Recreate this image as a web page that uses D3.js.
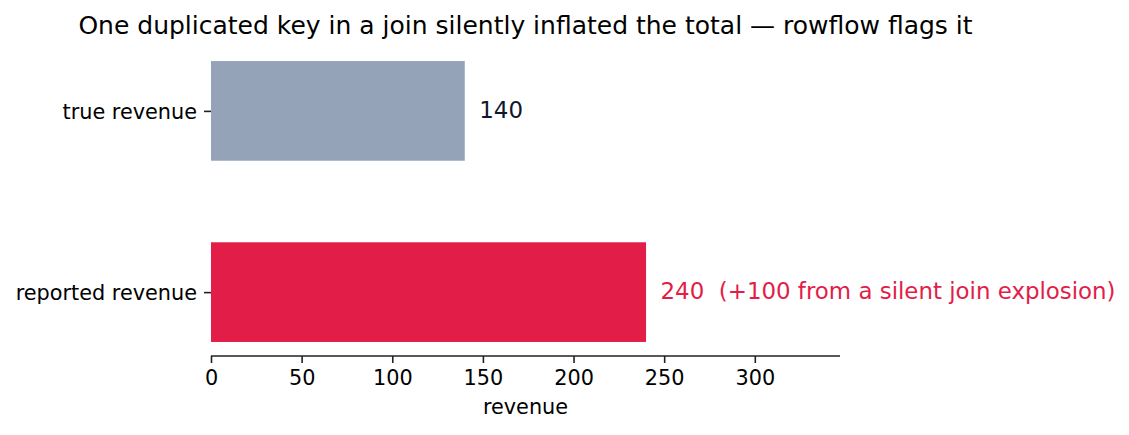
<!DOCTYPE html>
<html>
<head>
<meta charset="utf-8">
<script src="https://cdn.jsdelivr.net/npm/d3@7"></script>
<style>
  html, body { margin: 0; padding: 0; background: #fff; }
  svg { display: block; font-family: "DejaVu Sans", sans-serif; }
  text { white-space: pre; }
</style>
</head>
<body>
<svg id="chart" width="1129" height="435"></svg>
<script>
// ---- data ----
const categories = ["reported revenue", "true revenue"];
const values = [240, 140];
const barColors = ["#e11d48", "#94a3b8"];
const labelTexts = ["240  (+100 from a silent join explosion)", "140"];
const labelColors = ["#e11d48", "#0f172a"];
const xTicks = [0, 50, 100, 150, 200, 250, 300];
const xDomain = [0, 347];
const titleText = "One duplicated key in a join silently inflated the total \u2014 rowflow flags it";
const xLabelText = "revenue";

// ---- layout ----
const mLeft = 211, mRight = 840, mTop = 47, mBottom = 356;
const barH = 0.55;
const tickFont = 20.8, annFont = 22.9, titleFont = 25;

const svg = d3.select("#chart");
const x = d3.scaleLinear().domain(xDomain).range([mLeft, mRight]);
const y = d3.scaleLinear().domain([-0.3525, categories.length - 1 + 0.3525]).range([mBottom, mTop]);

// bars
svg.append("g").selectAll("rect")
  .data(values)
  .join("rect")
  .attr("x", x(0))
  .attr("y", (d, i) => y(i + barH / 2))
  .attr("width", d => x(d) - x(0))
  .attr("height", (d, i) => y(i - barH / 2) - y(i + barH / 2))
  .attr("fill", (d, i) => barColors[i]);

// value labels
svg.append("g").selectAll("text")
  .data(values)
  .join("text")
  .attr("x", d => x(d + 8))
  .attr("y", (d, i) => y(i))
  .attr("dy", "0.3em")
  .attr("font-size", annFont)
  .attr("fill", (d, i) => labelColors[i])
  .attr("xml:space", "preserve")
  .text((d, i) => labelTexts[i]);

// x axis
const xAxis = d3.axisBottom(x).tickValues(xTicks).tickSize(7).tickPadding(7).tickSizeOuter(0);
const gx = svg.append("g").attr("transform", `translate(0,${mBottom})`).call(xAxis);
gx.select(".domain").attr("stroke", "#222").attr("stroke-width", 1.6)
  .attr("d", `M${mLeft},0H${mRight}`);
gx.selectAll(".tick line").attr("stroke", "#222").attr("stroke-width", 1.6);
gx.selectAll(".tick text").attr("font-size", tickFont).attr("font-family", "DejaVu Sans")
  .attr("fill", "#000").attr("dy", null).attr("y", 29);

// y axis (ticks only, no spine)
const yAxis = d3.axisLeft(y).tickValues(categories.map((c, i) => i))
  .tickFormat(i => categories[i]).tickSize(7).tickPadding(7).tickSizeOuter(0);
const gy = svg.append("g").attr("transform", `translate(${mLeft},0)`).call(yAxis);
gy.select(".domain").remove();
gy.selectAll(".tick line").attr("stroke", "#222").attr("stroke-width", 1.6);
gy.selectAll(".tick text").attr("font-size", tickFont).attr("font-family", "DejaVu Sans")
  .attr("fill", "#000").attr("dy", "0.35em");

// x label
svg.append("text")
  .attr("x", (mLeft + mRight) / 2)
  .attr("y", 414)
  .attr("text-anchor", "middle")
  .attr("font-size", tickFont)
  .attr("fill", "#000")
  .text(xLabelText);

// title
svg.append("text")
  .attr("x", (mLeft + mRight) / 2)
  .attr("y", 34)
  .attr("text-anchor", "middle")
  .attr("font-size", titleFont)
  .attr("fill", "#000")
  .text(titleText);
</script>
</body>
</html>
